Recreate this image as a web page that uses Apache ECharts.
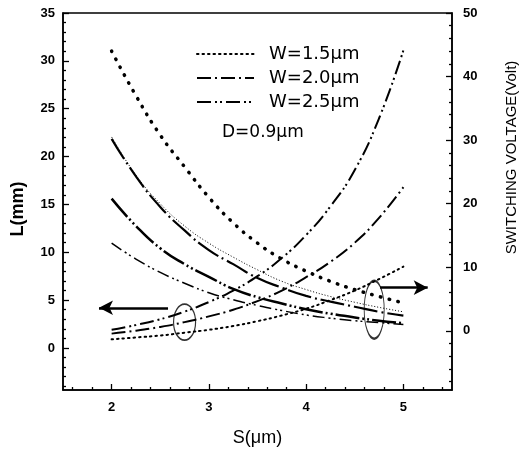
<!DOCTYPE html>
<html>
<head>
<meta charset="utf-8">
<script src="https://cdn.jsdelivr.net/npm/echarts@6/dist/echarts.min.js"></script>
<style>
html, body { margin: 0; padding: 0; background: #fff; }
#main { width: 527px; height: 453px; }
</style>
</head>
<body>
<div id="main"></div>
<script>
// separation S (um)
var sValues = [2, 2.25, 2.5, 2.75, 3, 3.25, 3.5, 3.75, 4, 4.25, 4.5, 4.75, 5];

// coupling length L (mm), left axis
var lenW15 = [0.9, 1.1, 1.3, 1.6, 1.9, 2.3, 2.8, 3.4, 4.1, 5.0, 6.0, 7.2, 8.5];
var lenW20 = [1.5, 1.8, 2.2, 2.7, 3.3, 4.0, 4.9, 6.0, 7.4, 9.0, 11.0, 13.6, 16.8];
var lenW25 = [1.9, 2.4, 3.0, 3.8, 4.8, 6.0, 7.5, 9.4, 11.8, 14.8, 18.6, 24.0, 31.1];

// switching voltage (Volt), right axis
var voltDots = [44, 37, 30.8, 25.8, 21.0, 17.0, 13.8, 11.3, 9.4, 7.8, 6.5, 5.4, 4.4];
var voltFine = [30.5, 24.5, 20.0, 16.5, 13.8, 11.6, 9.6, 7.8, 6.5, 5.4, 4.5, 3.7, 3.0];
var voltDashDot = [30.2, 24.3, 19.5, 15.8, 12.7, 10.5, 8.3, 6.8, 5.5, 4.6, 3.8, 3.0, 2.4];
var voltDashDotDot = [20.8, 16.5, 13.0, 10.5, 8.5, 6.6, 5.3, 4.3, 3.4, 2.7, 2.1, 1.6, 1.2];
var voltThin = [13.8, 11.3, 9.2, 7.5, 6.0, 4.9, 4.0, 3.2, 2.5, 2.0, 1.6, 1.3, 1.0];

var xMajor = [2, 3, 4, 5];
var xMinor = [1.6, 1.8, 2.2, 2.4, 2.6, 2.8, 3.2, 3.4, 3.6, 3.8, 4.2, 4.4, 4.6, 4.8, 5.2, 5.4];
var lMajor = [0, 5, 10, 15, 20, 25, 30, 35];
var lMinor = [-4, -3, -2, -1, 1, 2, 3, 4, 6, 7, 8, 9, 11, 12, 13, 14, 16, 17, 18, 19, 21, 22, 23, 24, 26, 27, 28, 29, 31, 32, 33, 34];
var vMajor = [0, 10, 20, 30, 40, 50];
var vMinor = [-8, -6, -4, -2, 2, 4, 6, 8, 12, 14, 16, 18, 22, 24, 26, 28, 32, 34, 36, 38, 42, 44, 46, 48];

var legendNames = ['W=1.5\u03bcm', 'W=2.0\u03bcm', 'W=2.5\u03bcm'];

// annotation marks (arrows and ellipses), in S / L data units
var arrowLeft = [[2.58, 4.2], [1.87, 4.2]];
var arrowRight = [[4.76, 6.3], [5.25, 6.3]];
var ellipses = [[2.75, 2.7], [4.70, 4.0]];

function pairs(ys) {
  return sValues.map(function (s, i) { return [s, ys[i]]; });
}

var font = 'Liberation Sans, Arial, sans-serif';
var wideFont = 'DejaVu Sans, sans-serif';

function minorAxis(pos, min, max, ticks) {
  return {
    type: 'value', position: pos, min: min, max: max,
    axisLine: { show: false, onZero: false }, splitLine: { show: false },
    axisLabel: { show: false },
    axisTick: { show: true, inside: true, length: 3, customValues: ticks,
      lineStyle: { color: '#000', width: 1.3 } }
  };
}

var chart = echarts.init(document.getElementById('main'));

var option = {
  animation: false,
  backgroundColor: '#fff',
  grid: { left: 63, right: 72, top: 13, bottom: 63, show: true,
    borderColor: '#000', borderWidth: 1.5, backgroundColor: 'transparent' },
  legend: {
    data: legendNames,
    orient: 'vertical',
    left: 191, top: 40,
    itemWidth: 57, itemHeight: 14, itemGap: 6,
    itemStyle: { opacity: 0 },
    textStyle: { fontFamily: wideFont, fontSize: 18, color: '#000', padding: [0, 0, 0, 10] }
  },
  graphic: [{
    type: 'text', left: 222, top: 124,
    style: { text: 'D=0.9\u03bcm', font: '17px ' + wideFont, fill: '#000' }
  }],
  xAxis: [{
    type: 'value', min: 1.5, max: 5.5, position: 'bottom',
    name: 'S(\u03bcm)', nameLocation: 'middle', nameGap: 39,
    nameTextStyle: { fontFamily: font, fontSize: 18, color: '#000' },
    axisLine: { onZero: false, lineStyle: { color: '#000', width: 1.5 } },
    axisTick: { inside: true, length: 6, customValues: xMajor, lineStyle: { color: '#000', width: 1.3 } },
    axisLabel: { customValues: xMajor, margin: 11, fontFamily: font, fontWeight: 'bold', fontSize: 13, color: '#000' },
    splitLine: { show: false }
  }, minorAxis('bottom', 1.5, 5.5, xMinor)],
  yAxis: [{
    type: 'value', min: -4.39, max: 35, position: 'left',
    name: 'L(mm)', nameLocation: 'middle', nameGap: 36,
    nameTextStyle: { fontFamily: font, fontSize: 18, fontWeight: 'bold', color: '#000', padding: [0, 15, 0, 0] },
    axisLine: { show: true, onZero: false, lineStyle: { color: '#000', width: 1.5 } },
    axisTick: { inside: true, length: 6, customValues: lMajor, lineStyle: { color: '#000', width: 1.3 } },
    axisLabel: { customValues: lMajor, margin: 8, fontFamily: font, fontWeight: 'bold', fontSize: 13, color: '#000' },
    splitLine: { show: false }
  }, {
    type: 'value', min: -9.3, max: 50, position: 'right',
    name: 'SWITCHING VOLTAGE(Volt)', nameLocation: 'middle', nameGap: 52,
    nameTextStyle: { fontFamily: font, fontSize: 15, color: '#000', padding: [0, 0, 0, 88] },
    axisLine: { show: true, onZero: false, lineStyle: { color: '#000', width: 1.5 } },
    axisTick: { inside: true, length: 6, customValues: vMajor, lineStyle: { color: '#000', width: 1.3 } },
    axisLabel: { customValues: vMajor, margin: 11, fontFamily: font, fontWeight: 'bold', fontSize: 13, color: '#000' },
    splitLine: { show: false }
  }, minorAxis('left', -4.39, 35, lMinor), minorAxis('right', -9.3, 50, vMinor)],
  series: [
    {
      name: legendNames[0], type: 'line', yAxisIndex: 0, smooth: true, symbol: 'none',
      data: pairs(lenW15),
      itemStyle: { color: 'rgba(0,0,0,0)' },
      lineStyle: { color: '#000', width: 2, type: [1.5, 4], cap: 'round' },
      markLine: {
        silent: true, symbol: ['none', 'arrow'], symbolSize: [11, 14],
        label: { show: false },
        lineStyle: { color: '#000', width: 2.5, type: 'solid' },
        data: [
          [{ coord: arrowLeft[0] }, { coord: arrowLeft[1] }],
          [{ coord: arrowRight[0] }, { coord: arrowRight[1] }]
        ]
      }
    },
    {
      name: legendNames[1], type: 'line', yAxisIndex: 0, smooth: true, symbol: 'none',
      data: pairs(lenW20),
      itemStyle: { color: 'rgba(0,0,0,0)' },
      lineStyle: { color: '#000', width: 2, type: [14, 4, 2, 4] }
    },
    {
      name: legendNames[2], type: 'line', yAxisIndex: 0, smooth: true, symbol: 'none',
      data: pairs(lenW25),
      itemStyle: { color: 'rgba(0,0,0,0)' },
      lineStyle: { color: '#000', width: 2, type: [14, 4, 2, 3, 2, 4] }
    },
    {
      name: 'V dots', type: 'line', yAxisIndex: 1, smooth: true, symbol: 'none',
      data: pairs(voltDots),
      lineStyle: { color: '#000', width: 3.5, type: [0.5, 8.5], cap: 'round' }
    },
    {
      name: 'V fine', type: 'line', yAxisIndex: 1, smooth: true, symbol: 'none',
      data: pairs(voltFine),
      lineStyle: { color: '#000', width: 1, type: [1, 2] }
    },
    {
      name: 'V dash-dot', type: 'line', yAxisIndex: 1, smooth: true, symbol: 'none',
      data: pairs(voltDashDot),
      lineStyle: { color: '#000', width: 2.2, type: [24, 4, 2, 4] }
    },
    {
      name: 'V dash-dot-dot', type: 'line', yAxisIndex: 1, smooth: true, symbol: 'none',
      data: pairs(voltDashDotDot),
      lineStyle: { color: '#000', width: 2.5, type: [24, 3, 2, 3, 2, 3] }
    },
    {
      name: 'V thin', type: 'line', yAxisIndex: 1, smooth: true, symbol: 'none',
      data: pairs(voltThin),
      lineStyle: { color: '#000', width: 1.5, type: [12, 4, 2, 3, 2, 4] }
    },
    {
      name: 'ellipse', type: 'scatter', yAxisIndex: 0, silent: true,
      data: [
        { value: ellipses[0], symbolSize: [22, 36] },
        { value: ellipses[1], symbolSize: [20, 58] }
      ],
      symbol: 'circle',
      itemStyle: { color: 'rgba(0,0,0,0)', borderColor: '#000', borderWidth: 1.5 }
    }
  ]
};

chart.setOption(option);
</script>
</body>
</html>
